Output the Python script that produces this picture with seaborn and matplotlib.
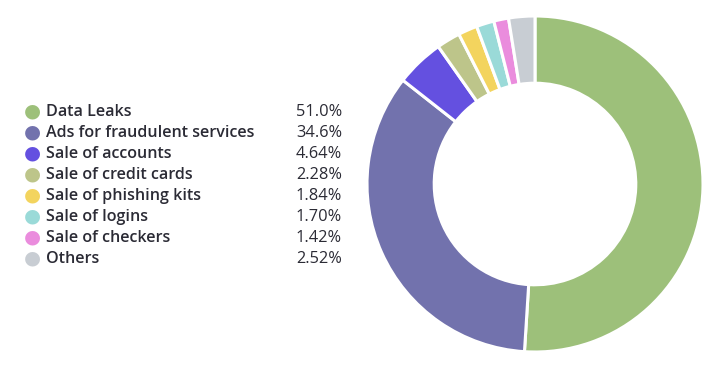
import matplotlib
matplotlib.use("Agg")
import matplotlib.pyplot as plt
import seaborn as sns

categories = ["Data Leaks", "Ads for fraudulent services", "Sale of accounts",
              "Sale of credit cards", "Sale of phishing kits", "Sale of logins",
              "Sale of checkers", "Others"]
shares = [51.0, 34.6, 4.64, 2.28, 1.84, 1.70, 1.42, 2.52]
share_labels = ["51.0%", "34.6%", "4.64%", "2.28%", "1.84%", "1.70%", "1.42%", "2.52%"]
colors = ["#9dc07a", "#7272ad", "#6450e0", "#bdc58a", "#f3d45e", "#9adad8", "#ea8cdd", "#c8cdd3"]

sns.set_theme(style="white")
plt.rcParams["font.family"] = ["Open Sans", "DejaVu Sans"]

W, H = 718, 366
fig = plt.figure(figsize=(W / 100, H / 100), dpi=100)

# donut
cx, cy, r = 535, 184, 168
ax = fig.add_axes([(cx - r) / W, (H - cy - r) / H, 2 * r / W, 2 * r / H])
ax.pie(shares, colors=colors, startangle=90, counterclock=False, radius=1,
       wedgeprops=dict(width=0.4, edgecolor="white", linewidth=2.2))
ax.set_xlim(-1, 1)
ax.set_ylim(-1, 1)
ax.set_aspect("equal")
ax.axis("off")

# legend
y0, dy = 112, 21
text_color = "#2b2b35"
for i, (name, lab, c) in enumerate(zip(categories, share_labels, colors)):
    y = 1 - (y0 + i * dy) / H
    fig.text(32 / W, y + 1 / H, "●", color=c, fontsize=14, ha="center", va="center",
             family="DejaVu Sans")
    fig.text(46 / W, y, name, color=text_color, fontsize=11.6, ha="left",
             va="center", fontweight="semibold")
    fig.text(342 / W, y, lab, color=text_color, fontsize=11.8, ha="right",
             va="center")

fig.savefig("out.png", dpi=100)
